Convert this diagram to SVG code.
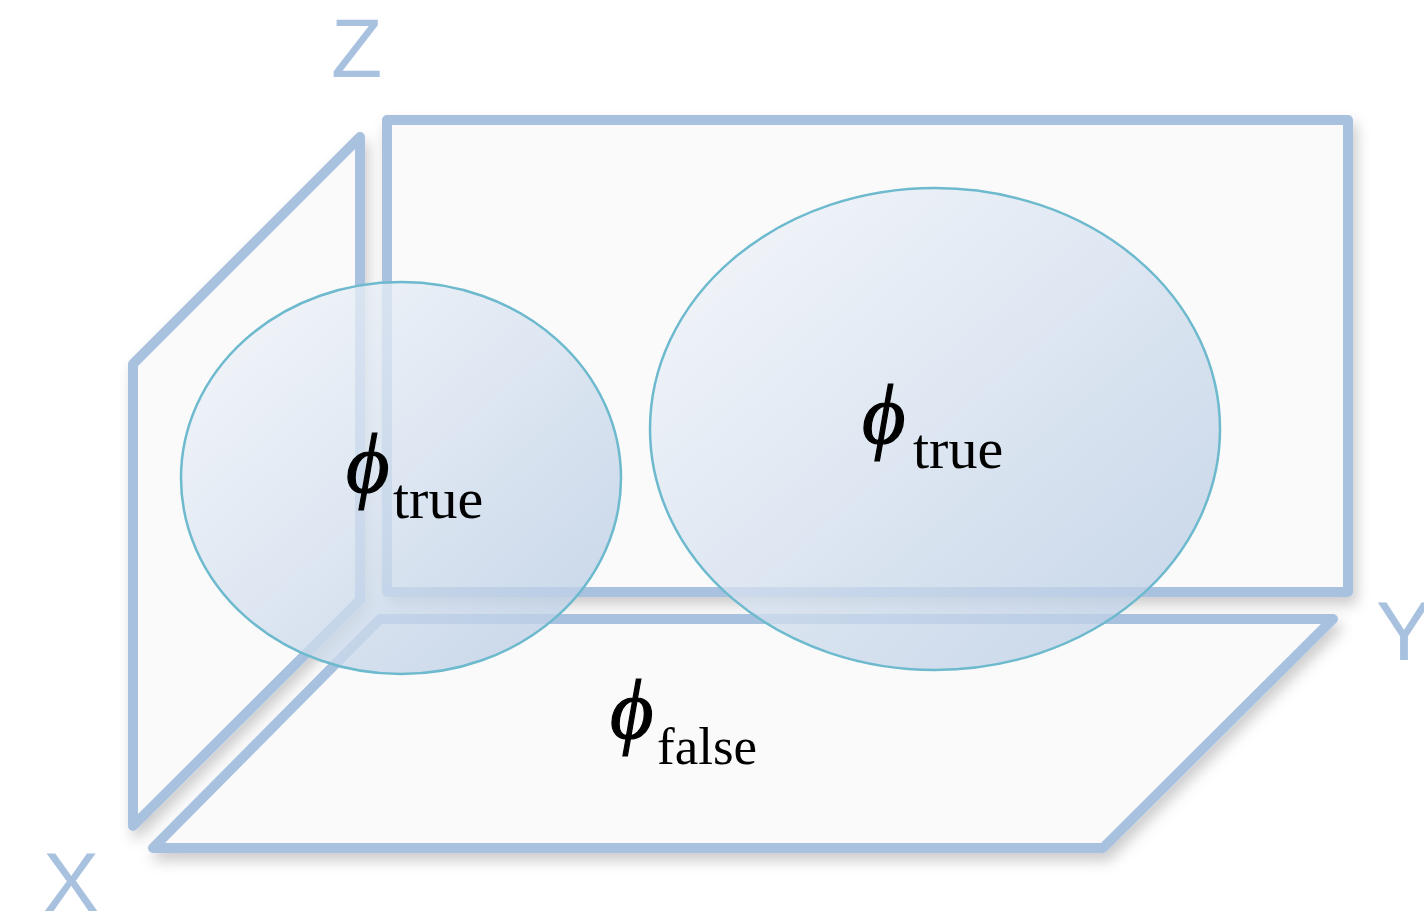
<svg xmlns="http://www.w3.org/2000/svg" width="1424" height="916" viewBox="0 0 1424 916">
<defs>
<filter id="sh" x="-10%" y="-10%" width="120%" height="130%">
<feDropShadow dx="4" dy="8" stdDeviation="7" flood-color="#000" flood-opacity="0.2"/>
</filter>
<linearGradient id="eg" x1="0" y1="0" x2="1" y2="1">
<stop offset="0" stop-color="#F4F7FB"/>
<stop offset="1" stop-color="#B6CAE3"/>
</linearGradient>
<style>
.plane{fill:#FAFAFA;stroke:#A8C1DF;stroke-width:10;stroke-linejoin:round;filter:url(#sh)}
.ell{fill:url(#eg);fill-opacity:0.78;stroke:#6DB9CD;stroke-width:2.5}
.axis{font-family:"Liberation Sans",Arial,sans-serif;font-size:84px;fill:#A8C1DF}
.phi{font-family:"Liberation Serif","Times New Roman",serif;font-style:italic;font-size:84px;fill:#000;stroke:#000;stroke-width:1.2}
.sub{font-family:"Liberation Serif","Times New Roman",serif;font-size:58px;fill:#000}
</style>
</defs>
<g id="plane-yz"><rect class="plane" x="387" y="120" width="961" height="472"/></g>
<g id="plane-xz"><polygon class="plane" points="360,137 360,600 133,826 133,364"/></g>
<g id="plane-xy"><polygon class="plane" points="380,619 1333,619 1103,848 153,848"/></g>
<g id="set-1"><ellipse class="ell" cx="401" cy="478" rx="220" ry="196"/>
<text><tspan class="phi" x="346" y="492">ϕ</tspan><tspan class="sub" x="393" y="518">true</tspan></text></g>
<g id="set-2"><ellipse class="ell" cx="935" cy="429" rx="285" ry="241"/>
<text><tspan class="phi" x="862" y="443">ϕ</tspan><tspan class="sub" x="913" y="468">true</tspan></text></g>
<g id="label-false"><text><tspan class="phi" x="610" y="738">ϕ</tspan><tspan class="sub" x="657" y="764" style="font-size:53px">false</tspan></text></g>
<g id="axes">
<text class="axis" x="331" y="77">Z</text>
<text class="axis" x="43" y="911">X</text>
<text class="axis" x="1376" y="660">Y</text>
</g>
<g id="connectors"></g>
</svg>
